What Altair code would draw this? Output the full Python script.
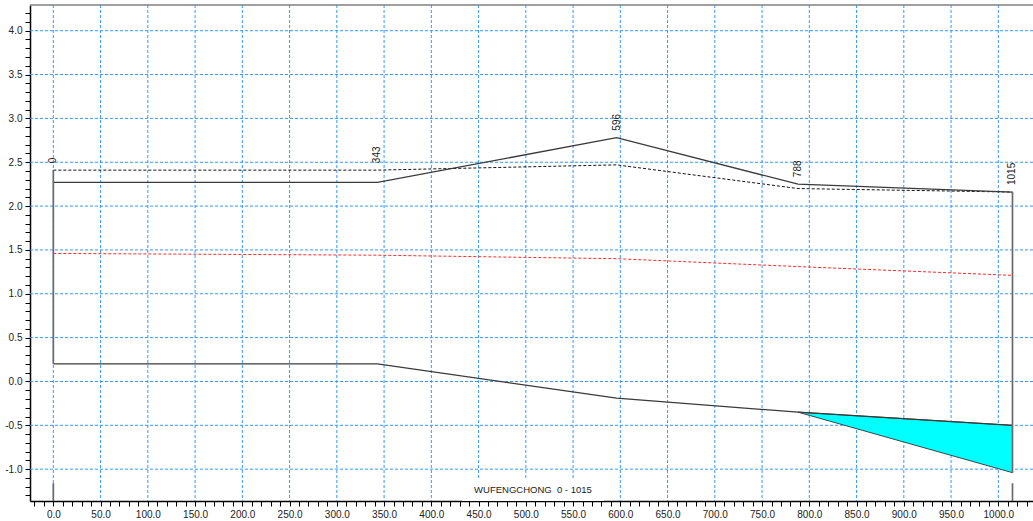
import altair as alt
import pandas as pd

# Chainage of the nodes along the reach (m) and their levels (m)
nodes = [0, 343, 596, 788, 1015]
node_labels = ["0", "343", "596", "788", "1015"]
ground = [2.27, 2.27, 2.78, 2.25, 2.16]
crown = [2.41, 2.41, 2.47, 2.20, 2.16]
water = [1.46, 1.44, 1.40, 1.31, 1.21]
invert = [0.20, 0.20, -0.19, -0.35, -0.50]

# Shaded wedge below the invert on the last reach
wedge_x = [788, 1015]
wedge_top = [-0.35, -0.50]
wedge_bottom = [-0.35, -1.04]

# Axis ticks / grid
grid_x = [v * 50 for v in range(0, 21)]
grid_y = [round(-1.0 + 0.5 * i, 1) for i in range(0, 11)]
tick_x = list(range(-20, 1031, 10))
tick_y = [round(-1.3 + 0.1 * i, 1) for i in range(0, 56)]

title_text = "WUFENGCHONG\u00a0\u00a00 - 1015"
title_x = 1015 / 2
title_y = -1.24

X_DOM = [-24.7, 1036.7]
Y_DOM = [-1.363, 4.293]
xs = alt.Scale(domain=X_DOM, nice=False, zero=False)
ys = alt.Scale(domain=Y_DOM, nice=False, zero=False)

W, H = 1003, 496
FONT = "Liberation Sans"
GRID = "#3399ff"

prof = pd.DataFrame({"ch": nodes, "label": node_labels, "ground": ground,
                     "crown": crown, "water": water, "invert": invert,
                     "top": [max(g, c) for g, c in zip(ground, crown)]})

x_axis = alt.Axis(values=tick_x, grid=False, tickSize=5, tickColor="black",
                  domainColor="black", domainWidth=1.5, labelFont=FONT,
                  labelFontSize=10, labelColor="#222", labelPadding=3,
                  labelOverlap=False, labelFlush=False, title=None,
                  labelExpr="datum.value % 50 === 0 ? (datum.value < 0 ? '-' : '') + format(abs(datum.value), '.1f') : ''")
y_axis = alt.Axis(values=tick_y, grid=False, tickSize=5, tickColor="black",
                  domainColor="black", domainWidth=1.5, labelFont=FONT,
                  labelFontSize=10, labelColor="#222", labelPadding=3,
                  labelOverlap=False, labelFlush=False, title=None,
                  labelExpr="abs(datum.value * 2 - round(datum.value * 2)) < 0.001 ? (datum.value < 0 ? '-' : '') + format(abs(datum.value), '.1f') : ''")


def xq(field):
    return alt.X(f"{field}:Q", scale=xs, axis=x_axis)


def yq(field):
    return alt.Y(f"{field}:Q", scale=ys, axis=y_axis)


vgrid = alt.Chart(pd.DataFrame({"x": grid_x})).mark_rule(
    color=GRID, strokeDash=[3, 2], strokeWidth=1
).encode(x=xq("x"))

hgrid = alt.Chart(pd.DataFrame({"y": grid_y})).mark_rule(
    color=GRID, strokeDash=[3, 2], strokeWidth=1
).encode(y=yq("y"))

# Frame line along the top of the plot area
top_frame = alt.Chart(pd.DataFrame({"k": [0]})).mark_rule(
    color="#808080", strokeWidth=1.5
).encode(x=alt.value(0), x2=alt.value(W), y=alt.value(0))

base = alt.Chart(prof)


def line(field, **kw):
    return base.mark_line(**kw).encode(x=xq("ch"), y=yq(field))


water_line = line("water", color="#ff2a2a", strokeDash=[3, 2], strokeWidth=1)
crown_line = line("crown", color="#111", strokeDash=[3, 2], strokeWidth=1)
ground_line = line("ground", color="#3a3a3a", strokeWidth=1.3)
invert_line = line("invert", color="#3a3a3a", strokeWidth=1.3)

wedge = alt.Chart(pd.DataFrame({"ch": wedge_x, "top": wedge_top, "bot": wedge_bottom})).mark_area(
    color="#00ffff", opacity=1, stroke="#444", strokeWidth=1
).encode(x=xq("ch"), y=yq("top"), y2="bot:Q")

# End manholes: vertical walls and short stubs at the bottom axis
ends = pd.DataFrame({
    "ch": [nodes[0], nodes[-1], nodes[0], nodes[-1]],
    "y1": [invert[0], wedge_bottom[-1], -1.16, -1.16],
    "y2": [crown[0], ground[-1], Y_DOM[0], Y_DOM[0]],
})
walls = alt.Chart(ends).mark_rule(color="#6a6a6a", strokeWidth=1.7).encode(
    x=xq("ch"), y=yq("y1"), y2="y2:Q")

node_text = base.mark_text(angle=270, align="left", baseline="middle", dx=7,
                           font=FONT, fontSize=10, color="#222").encode(
    x=xq("ch"), y=yq("top"), text="label:N")

title_box = alt.Chart(pd.DataFrame({"x1": [title_x - 75], "x2": [title_x + 75],
                                    "y1": [-1.11], "y2": [Y_DOM[0]]})).mark_rect(
    color="white").encode(x=xq("x1"), x2="x2:Q", y=yq("y1"), y2="y2:Q")

title = alt.Chart(pd.DataFrame({"x": [title_x], "y": [title_y], "t": [title_text]})).mark_text(
    font=FONT, fontSize=9.5, color="#222", align="center", baseline="middle"
).encode(x=xq("x"), y=yq("y"), text="t:N")

chart = alt.layer(
    vgrid, hgrid, top_frame, title_box, water_line, crown_line, wedge,
    ground_line, invert_line, walls, node_text, title
).properties(
    width=W, height=H,
    padding={"left": 30, "top": 5, "right": 0, "bottom": 20},
    autosize=alt.AutoSizeParams(type="none"),
    background="white",
).configure_view(strokeWidth=0)

chart.save("out.html", embed_options={"renderer": "svg", "actions": False})
